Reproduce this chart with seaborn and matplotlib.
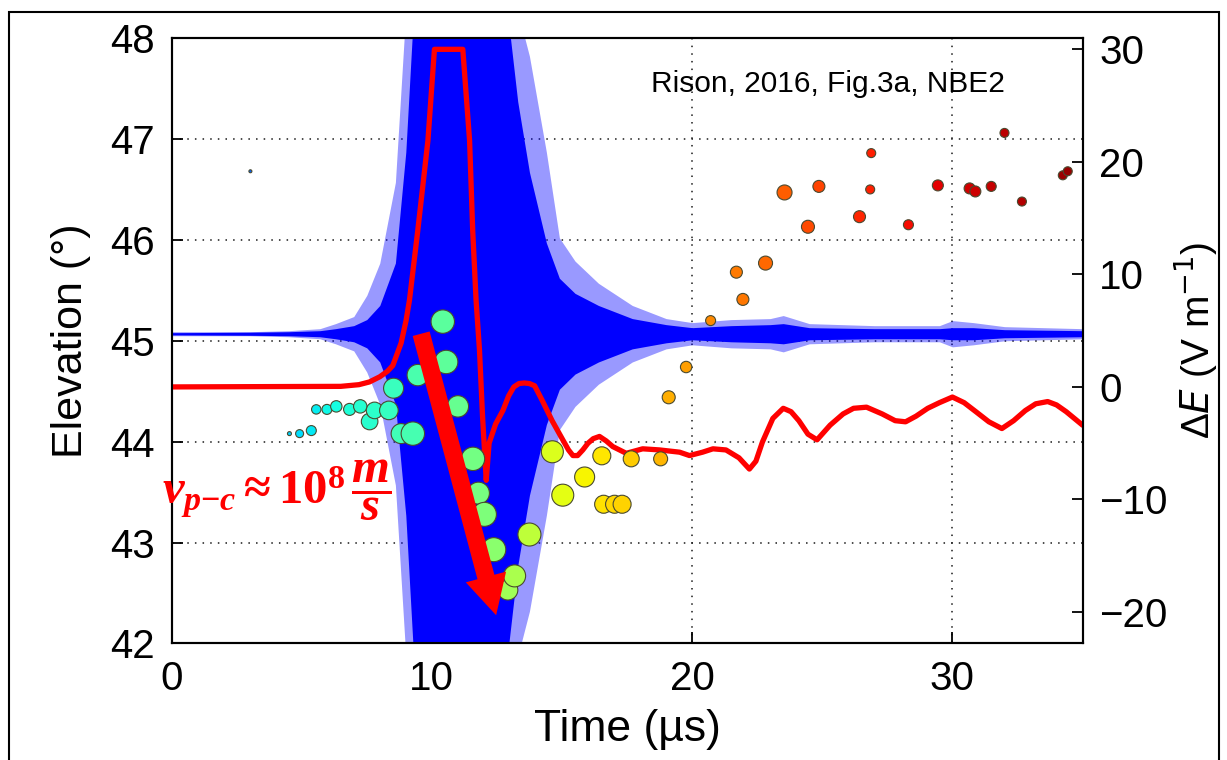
import numpy as np
import pandas as pd
import seaborn as sns
import matplotlib
matplotlib.use('Agg')
import matplotlib.pyplot as plt
from matplotlib.patches import Rectangle

# --- data ---
# LMA source points: time (us), elevation (deg), marker radius (px)
src_time = [3.03, 4.53, 4.92, 5.37, 5.56, 5.97, 6.33, 6.84, 7.25, 7.61, 7.80, 8.35,
            8.53, 8.82, 9.27, 9.46, 10.42, 10.55, 11.00, 11.58, 11.79, 12.02, 12.38,
            12.92, 13.18, 13.75, 14.63, 15.03, 15.87, 16.53, 16.60, 17.02, 17.31,
            17.66, 18.79, 19.10, 19.77, 20.71, 21.70, 21.95, 22.82, 23.55, 24.45,
            24.87, 26.43, 26.84, 26.88, 28.31, 29.44, 30.66, 30.88, 31.49, 32.00,
            32.67, 34.24, 34.43]
src_elev = [46.68, 44.08, 44.08, 44.11, 44.32, 44.32, 44.35, 44.32, 44.35, 44.20,
            44.31, 44.31, 44.53, 44.08, 44.08, 44.66, 45.19, 44.79, 44.35, 43.83,
            43.49, 43.28, 42.93, 42.53, 42.67, 43.08, 43.90, 43.47, 43.65, 43.86,
            43.38, 43.38, 43.38, 43.83, 43.83, 44.44, 44.74, 45.20, 45.68, 45.41,
            45.77, 46.47, 46.13, 46.53, 46.23, 46.50, 46.86, 46.15, 46.54, 46.51,
            46.48, 46.53, 47.06, 46.38, 46.64, 46.68]
src_radius = [1.5, 2.0, 4.0, 5.0, 4.7, 5.0, 5.7, 6.0, 6.7, 8.3, 8.3, 9.3, 10.0, 10.0,
              11.7, 10.7, 11.7, 11.7, 10.7, 11.7, 11.0, 12.0, 12.0, 10.0, 11.0, 11.5,
              11.0, 11.0, 10.0, 9.0, 9.0, 9.0, 9.0, 8.0, 7.0, 6.5, 5.7, 5.0, 6.0, 6.0,
              7.0, 7.5, 6.5, 6.0, 6.0, 4.5, 4.5, 5.0, 5.5, 5.5, 5.5, 5.0, 4.5, 4.5,
              4.5, 4.5]

# Delta E waveform (right axis, V/m)
red_t = [0, 6.5, 7.2, 7.6, 8.0, 8.3, 8.5, 8.82, 9.01, 9.14, 9.46, 9.85, 10.1,
         11.19, 11.45, 11.57, 11.7, 11.83, 11.95, 12.09, 12.2, 12.45, 12.73, 12.95,
         13.15, 13.35, 13.55, 13.75, 13.95, 14.24, 14.62, 15.03, 15.25, 15.42,
         15.6, 15.8, 16.0, 16.2, 16.44, 16.7, 16.95, 17.47, 18.1, 18.75, 19.52,
         19.9, 20.4, 20.8, 21.3, 21.8, 22.2, 22.45, 22.7, 23.1, 23.5, 23.8, 24.1,
         24.45, 24.8, 25.3, 25.8, 26.2, 26.7, 27.3, 27.8, 28.2, 28.6, 29.05, 29.5,
         30.0, 30.45, 30.9, 31.4, 31.9, 32.35, 32.8, 33.2, 33.66, 34.0, 34.37, 35.0]
red_de = [0.0, 0.05, 0.2, 0.44, 0.9, 1.4, 1.9, 3.9, 5.9, 7.7, 13.9, 21.9, 30.0,
          30.0, 21.9, 13.9, 7.7, 3.3, -2.7, -8.3, -5.0, -3.3, -2.1, -0.8, 0.0,
          0.3, 0.35, 0.3, 0.1, -1.2, -3.0, -4.7, -5.6, -6.1, -6.1, -5.6, -5.0,
          -4.6, -4.4, -4.8, -5.3, -5.9, -5.5, -5.6, -5.8, -6.1, -5.8, -5.5, -5.6,
          -6.3, -7.3, -6.6, -4.9, -2.8, -1.9, -2.2, -3.0, -4.2, -4.7, -3.4, -2.4,
          -1.9, -1.8, -2.4, -3.0, -3.1, -2.6, -1.9, -1.4, -0.9, -1.4, -2.2, -3.1,
          -3.7, -3.0, -2.1, -1.5, -1.3, -1.6, -2.2, -3.4]

# VHF envelope (half widths in deg around the baseline)
blue_base = 45.07
blue_t = [0, 3, 4.5, 5.7, 6.3, 7.0, 7.5, 8.0, 8.6, 9.0, 9.3, 12.9, 13.3, 13.75,
          14.4, 14.9, 15.5, 16.4, 17.7, 19.0, 20.0, 21.5, 23.0, 23.5, 24.5, 27.0,
          29.5, 30.0, 30.8, 32.0, 35.0]
blue_peak = [0.02, 0.02, 0.03, 0.05, 0.10, 0.17, 0.38, 0.70, 1.50, 3.2, 3.2, 3.2,
             3.2, 2.75, 1.80, 0.95, 0.72, 0.50, 0.28, 0.15, 0.11, 0.14, 0.15, 0.18,
             0.10, 0.08, 0.08, 0.13, 0.11, 0.07, 0.05]
blue_core = [0.01, 0.015, 0.02, 0.03, 0.05, 0.08, 0.14, 0.28, 0.70, 1.8, 3.2, 3.2,
             2.3, 1.6, 0.9, 0.55, 0.4, 0.28, 0.15, 0.09, 0.06, 0.08, 0.09, 0.10,
             0.06, 0.05, 0.05, 0.06, 0.06, 0.04, 0.03]

# colour scale position (jet) against time
ct_t = [3, 4.5, 6, 8.5, 10.5, 12, 13, 14.8, 17, 19, 20.5, 23, 24.5, 27, 30, 34.5]
ct_v = [0.22, 0.33, 0.37, 0.42, 0.46, 0.50, 0.55, 0.62, 0.68, 0.72, 0.76, 0.80,
        0.83, 0.88, 0.92, 0.98]

x_ticks = [0, 10, 20, 30]
left_ticks = [42, 43, 44, 45, 46, 47, 48]
right_ticks = [-20, -10, 0, 10, 20, 30]

arrow_tail = (9.59, 45.07)
arrow_tip = (12.47, 42.28)


def main():
    sns.set_theme(style='white')
    plt.rcParams['font.family'] = ['Liberation Sans', 'DejaVu Sans']
    plt.rcParams['mathtext.fontset'] = 'custom'
    plt.rcParams['mathtext.rm'] = 'Liberation Serif:bold'
    plt.rcParams['mathtext.it'] = 'Liberation Serif:italic:bold'
    plt.rcParams['mathtext.bf'] = 'Liberation Serif:bold'

    fig = plt.figure(figsize=(12.27, 7.6), dpi=100)
    pos = [0.1398, 0.1533, 0.7425, 0.7966]
    ax = fig.add_axes(pos)
    ax2 = ax.twinx()
    ax3 = fig.add_axes(pos, sharex=ax, sharey=ax)
    ax3.set_axis_off()

    # blue VHF waveform
    t = np.array(blue_t)
    ax.fill_between(t, blue_base - np.array(blue_peak), blue_base + np.array(blue_peak),
                    color='#0000ff', alpha=0.4, lw=0, zorder=2)
    ax.fill_between(t, blue_base - np.array(blue_core), blue_base + np.array(blue_core),
                    color='#0000ff', lw=0, zorder=3)
    ax.axhline(blue_base, color='#0000ff', lw=1, zorder=3)

    # red Delta E
    sns.lineplot(x=red_t, y=red_de, ax=ax2, color='#ff0000', lw=3.8,
                 estimator=None, sort=False)

    # LMA sources
    df = pd.DataFrame({'t': src_time, 'elev': src_elev, 'r': src_radius})
    df['area'] = (2 * df['r'] * 0.72) ** 2
    df['cval'] = np.interp(df['t'], ct_t, ct_v)
    sns.scatterplot(data=df, x='t', y='elev', hue='cval',
                    palette=matplotlib.colormaps['jet'],
                    hue_norm=(0, 1), size='area', sizes=(0, 1000),
                    size_norm=(0, 1000), edgecolor='#4a4a30', linewidth=0.8,
                    legend=False, ax=ax3, zorder=4)

    ax3.annotate('', xy=arrow_tip, xytext=arrow_tail,
                 arrowprops=dict(arrowstyle='simple,head_length=0.95,head_width=1.0,tail_width=0.42',
                                 color='#ff0000', mutation_scale=30,
                                 shrinkA=0, shrinkB=0, lw=0),
                 zorder=6)
    ax3.text(-0.35, 43.52, r'$v_{p{-}c}\approx 10^{8}\,\dfrac{m}{s}$', color='#ff0000',
             fontsize=35, ha='left', va='center', clip_on=False, zorder=7)
    ax3.text(25.2, 47.54, 'Rison, 2016, Fig.3a, NBE2', fontsize=21.5,
             ha='center', va='center', color='black')

    ax.set_xlim(0, 35)
    ax.set_ylim(42, 48)
    ax2.set_ylim(-22.8, 31.0)
    ax.set_xticks(x_ticks)
    ax.set_yticks(left_ticks)
    ax2.set_yticks(right_ticks)

    ax.grid(True, color='k', linestyle=(0, (1, 4)), lw=1.1)
    ax.set_axisbelow(True)
    ax2.grid(False)

    ax.tick_params(axis='both', direction='in', length=8, width=1.3,
                   labelsize=29, pad=12, colors='black', left=True, bottom=True)
    ax2.tick_params(axis='y', direction='in', length=8, width=1.3,
                    labelsize=29, pad=12, colors='black', right=True)
    for a in (ax, ax2):
        for s in a.spines.values():
            s.set_color('black')
            s.set_linewidth(1.5)

    ax.set_xlabel('Time (µs)', fontsize=32, labelpad=8, color='black')
    ax.set_ylabel('Elevation (°)', fontsize=31, labelpad=14, color='black')
    ax2.set_ylabel(r'Δ$E$ (V m$^{-1}$)', fontsize=28, labelpad=3, color='black',
                   math_fontfamily='dejavusans')

    fig.add_artist(Rectangle((9 / 1227, -0.01), 1210 / 1227, 1.01 - 12 / 760,
                             transform=fig.transFigure, fill=False,
                             ec='black', lw=1.5))

    fig.savefig('out.png', dpi=100)


if __name__ == "__main__":
    main()
